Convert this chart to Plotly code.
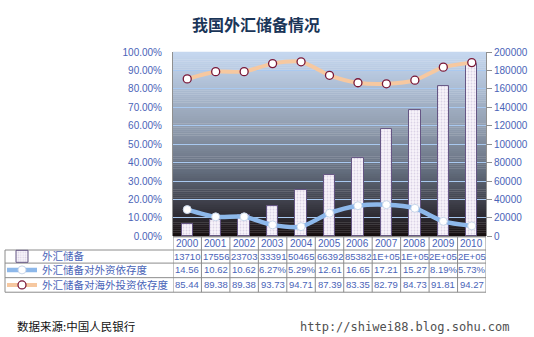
import plotly.graph_objects as go

# --- data -------------------------------------------------------------
years = ["2000", "2001", "2002", "2003", "2004", "2005",
         "2006", "2007", "2008", "2009", "2010"]
reserves = [13710, 17556, 23703, 33391, 50465, 66392,
            85382, 117000, 137000, 163400, 187200]          # 亿元
dep_foreign_capital = [14.56, 10.62, 10.62, 6.27, 5.29, 12.61,
                       16.65, 17.21, 15.27, 8.19, 5.73]       # %
dep_overseas_invest = [85.44, 89.38, 89.38, 93.73, 94.71, 87.39,
                       83.35, 82.79, 84.73, 91.81, 94.27]     # %

series_names = ["外汇储备", "外汇储备对外资依存度", "外汇储备对海外投资依存度"]
title_text = "我国外汇储备情况"
source_text = "数据来源:中国人民银行"
site_text = "http://shiwei88.blog.sohu.com"

W, H = 534, 337
PX = lambda v: v / W
PY = lambda v: 1 - v / H

BLUE_TXT = "#4a64b8"
GRID = "#a9c9f0"
TABLE_LINE = "#8c8c8c"


def fmt_reserve(v):
    return f"{v:.0E}" if v >= 100000 else f"{v}"


def fmt_pct(v):
    return f"{v:.2f}%" if v < 10 else f"{v:.2f}"


fig = go.Figure()

# bars on the primary (right-hand) axis
fig.add_trace(go.Bar(
    x=years, y=reserves, name=series_names[0], width=0.4,
    marker=dict(color="#f8f4fa",
                line=dict(color="#655684", width=1),
                pattern=dict(shape=".", fgcolor="#bcaed0", size=3, solidity=0.3)),
    yaxis="y", legend="legend",
))

# dependency lines on the overlaying (left-hand) percentage axis
fig.add_trace(go.Scatter(
    x=years, y=dep_foreign_capital, name=series_names[1], yaxis="y2",
    mode="lines+markers", line=dict(color="#8db8ea", width=4.5, shape="spline", smoothing=0.7),
    marker=dict(symbol="circle", size=8, color="white", line=dict(color="#c8d6ea", width=1)),
    legend="legend2",
))
fig.add_trace(go.Scatter(
    x=years, y=dep_overseas_invest, name=series_names[2], yaxis="y2",
    mode="lines+markers", line=dict(color="#f6c8a0", width=4, shape="spline", smoothing=0.7),
    marker=dict(symbol="circle", size=8, color="white", line=dict(color="#7a1838", width=1.3)),
    legend="legend3",
))

# plot-area gradient: light blue at the top fading to near-black at the bottom
stops = [(0.0, (22, 14, 14)), (0.12, (48, 46, 54)), (0.35, (98, 108, 124)),
         (0.6, (146, 158, 176)), (0.8, (172, 188, 210)), (1.0, (198, 216, 240))]


def grad(t):
    for (t0, c0), (t1, c1) in zip(stops[:-1], stops[1:]):
        if t <= t1:
            f = (t - t0) / (t1 - t0)
            return "rgb(%d,%d,%d)" % tuple(round(a + (b - a) * f) for a, b in zip(c0, c1))
    return "rgb(%d,%d,%d)" % stops[-1][1]


N = 95
shapes = []
for i in range(N):
    y0, y1 = i / N, (i + 1) / N
    shapes.append(dict(type="rect", xref="x domain", yref="y domain",
                       x0=0, x1=1, y0=y0, y1=y1 + 0.002, layer="below",
                       line=dict(width=0), fillcolor=grad((y0 + y1) / 2)))

# --- data table beneath the plot, columns follow the category axis ------
row_y = [246, 259, 273, 288.5]          # text centres: years, then three series rows
row_edges = [239, 252.5, 266, 281, 296]  # horizontal rules
tline = dict(color=TABLE_LINE, width=1)
n = len(years)
# vertical rules between year columns
for k in range(n + 1):
    shapes.append(dict(type="line", xref="x", yref="paper", x0=k - 0.5, x1=k - 0.5,
                       y0=PY(row_edges[0]), y1=PY(row_edges[-1]), line=tline))
# top rule of the year header
shapes.append(dict(type="line", xref="x", yref="paper", x0=-0.5, x1=n - 0.5,
                   y0=PY(row_edges[0]), y1=PY(row_edges[0]), line=tline))
# rules spanning the legend column as well
for e in row_edges[1:]:
    shapes.append(dict(type="line", xref="paper", yref="paper", x0=PX(5), x1=PX(486),
                       y0=PY(e), y1=PY(e), line=tline))
shapes.append(dict(type="line", xref="paper", yref="paper", x0=PX(5), x1=PX(5),
                   y0=PY(row_edges[1]), y1=PY(row_edges[-1]), line=tline))

annotations = []
cell_font = dict(family="Liberation Sans, Arial", size=9.5, color=BLUE_TXT)
rows = [years,
        [fmt_reserve(v) for v in reserves],
        [fmt_pct(v) for v in dep_foreign_capital],
        [fmt_pct(v) for v in dep_overseas_invest]]
for r, (vals, yc) in enumerate(zip(rows, row_y)):
    for i, txt in enumerate(vals):
        # category index i on the x axis = column of years[i]
        annotations.append(dict(text=txt, x=i, y=PY(yc), xref="x", yref="paper",
                                xanchor="center", yanchor="middle", showarrow=False,
                                font=dict(cell_font, size=10 if r == 0 else 9.5)))

annotations += [
    dict(text=f"<b>{title_text}</b>", x=PX(256), y=PY(20), xref="paper", yref="paper",
         xanchor="center", yanchor="middle", showarrow=False,
         font=dict(family="Noto Sans CJK SC", size=16, color="#1a3558")),
    dict(text=source_text, x=PX(15), y=PY(331), xref="paper", yref="paper",
         xanchor="left", yanchor="middle", showarrow=False,
         font=dict(family="Noto Sans CJK SC", size=11.5, color="#111111")),
    dict(text=site_text, x=PX(512), y=PY(332), xref="paper", yref="paper",
         xanchor="right", yanchor="middle", showarrow=False,
         font=dict(family="DejaVu Sans Mono", size=12, color="#505050")),
]

axis_font = dict(family="Liberation Sans, Arial", size=10, color=BLUE_TXT)
legend_common = dict(bgcolor="rgba(0,0,0,0)", borderwidth=0,
                     font=dict(family="Noto Sans CJK SC", size=10.5, color=BLUE_TXT),
                     x=PX(2), xanchor="left", yanchor="middle")

fig.update_layout(
    width=W, height=H, margin=dict(l=0, r=0, t=0, b=0),
    paper_bgcolor="white", plot_bgcolor="rgba(0,0,0,0)",
    shapes=shapes, annotations=annotations, bargap=0, showlegend=True,
    xaxis=dict(domain=[PX(173), PX(486)], type="category", showticklabels=False,
               showgrid=False, ticks="", showline=False, zeroline=False,
               range=[-0.5, 10.5]),
    yaxis=dict(domain=[PY(238.5), PY(48.5)], side="right", range=[0, 200000],
               dtick=20000, tickformat="d", showgrid=False, zeroline=False,
               showline=True, linecolor="#8f8f8f", linewidth=1,
               ticks="outside", ticklen=5, tickcolor="#8f8f8f",
               tickfont=axis_font),
    yaxis2=dict(overlaying="y", side="left", range=[0, 100], dtick=10,
                tickformat=".2f", ticksuffix="%", showgrid=True, gridcolor=GRID,
                gridwidth=1, zeroline=False, showline=True, linecolor="#8f8f8f",
                linewidth=1, ticks="", tickfont=axis_font, ticklabelstandoff=8),
    legend=dict(legend_common, y=PY(row_y[1])),
    legend2=dict(legend_common, y=PY(row_y[2])),
    legend3=dict(legend_common, y=PY(row_y[3])),
)

fig.write_html("out.html")
